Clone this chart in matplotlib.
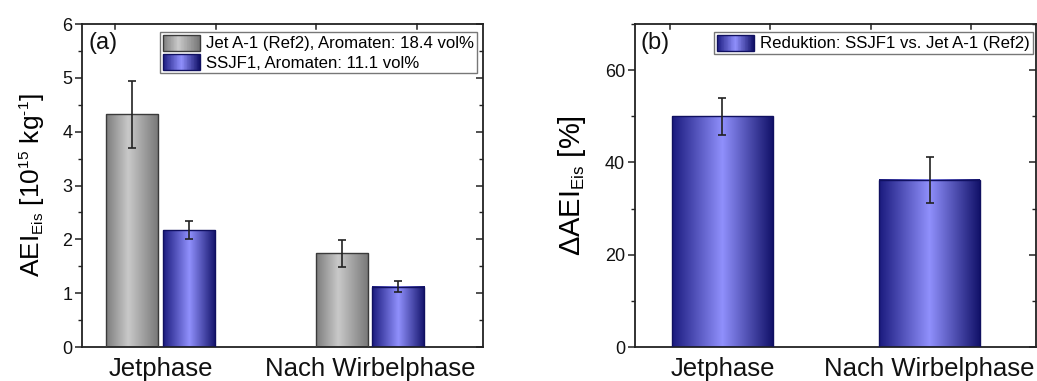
import numpy as np
import matplotlib
matplotlib.use("Agg")
import matplotlib.pyplot as plt
import matplotlib._mathtext as _mt
from matplotlib.colors import LinearSegmentedColormap
from matplotlib.patches import Rectangle
from matplotlib.legend_handler import HandlerBase
from matplotlib.ticker import MultipleLocator

plt.rcParams['font.family'] = ['Liberation Sans', 'DejaVu Sans']
plt.rcParams['mathtext.fontset'] = 'custom'
plt.rcParams['mathtext.rm'] = 'Liberation Sans'
plt.rcParams['mathtext.it'] = 'Liberation Sans:italic'
# smaller sub/superscripts in the axis labels
_mt.SHRINK_FACTOR = 0.58

# ---- data ----
phases = ["Jetphase", "Nach Wirbelphase"]
series_names = ["Jet A-1 (Ref2), Aromaten: 18.4 vol%", "SSJF1, Aromaten: 11.1 vol%"]
aei_jeta1 = [4.32, 1.74]
aei_jeta1_err = [0.62, 0.25]
aei_ssjf1 = [2.17, 1.12]
aei_ssjf1_err = [0.17, 0.10]
reduction_name = "Reduktion: SSJF1 vs. Jet A-1 (Ref2)"
reduction = [50.0, 36.2]
reduction_err = [4.0, 5.0]

gray_cmap = LinearSegmentedColormap.from_list(
    "gray_grad", [(0.0, "#7c7c7c"), (0.42, "#c9c9c9"), (1.0, "#777777")])
blue_cmap = LinearSegmentedColormap.from_list(
    "blue_grad", [(0.0, "#1a1a7e"), (0.5, "#9090fc"), (1.0, "#12126a")])

GRAD = np.linspace(0, 1, 256).reshape(1, -1)


def gradient_bars(ax, x, heights, width, cmap, edge):
    bars = ax.bar(x, heights, width, facecolor="none", edgecolor=edge,
                  linewidth=1.0, zorder=3)
    for b in bars:
        ax.imshow(GRAD, cmap=cmap, aspect="auto", interpolation="bilinear",
                  extent=[b.get_x(), b.get_x() + b.get_width(), 0, b.get_height()],
                  zorder=2)
    return bars


class GradientHandler(HandlerBase):
    def __init__(self, cmap, edge):
        super().__init__()
        self.cmap = cmap
        self.edge = edge

    def create_artists(self, legend, orig_handle, xdescent, ydescent,
                       width, height, fontsize, trans):
        n = 48
        arts = []
        for i in range(n):
            arts.append(Rectangle((-xdescent + width * i / n, -ydescent),
                                  width / n * 1.08, height,
                                  facecolor=self.cmap((i + 0.5) / n),
                                  edgecolor="none", transform=trans))
        arts.append(Rectangle((-xdescent, -ydescent), width, height,
                              facecolor="none", edgecolor=self.edge,
                              linewidth=1.0, transform=trans))
        return arts


def style_axes(ax, top_fracs):
    for s in ax.spines.values():
        s.set_color("#222222")
        s.set_linewidth(1.3)
    ax.tick_params(axis="y", which="major", direction="out", length=5,
                   width=1.1, labelsize=13, pad=2, colors="#222222",
                   labelcolor="#111111")
    ax.tick_params(axis="y", which="minor", direction="out", length=3,
                   width=1.0, colors="#222222")
    ax.tick_params(axis="x", which="both", length=0, labelsize=18.5, pad=7,
                   labelcolor="#111111")
    # inward ticks on the right spine
    sec = ax.secondary_yaxis("right")
    sec.set_yticks(ax.get_yticks())
    sec.yaxis.set_minor_locator(ax.yaxis.get_minor_locator())
    sec.tick_params(axis="y", which="major", direction="in", length=5,
                    width=1.1, labelright=False, colors="#222222")
    sec.tick_params(axis="y", which="minor", direction="in", length=3,
                    width=1.0, colors="#222222")
    sec.spines["right"].set_visible(False)
    # inward ticks on the top spine
    for f in top_fracs:
        ax.plot([f, f], [1.0, 0.985], transform=ax.transAxes, color="#222222",
                lw=1.1, clip_on=False, zorder=5)


def add_legend(ax, handles_cmaps, labels, anchor):
    handles = [Rectangle((0, 0), 1, 1) for _ in handles_cmaps]
    hmap = {h: GradientHandler(c, e) for h, (c, e) in zip(handles, handles_cmaps)}
    leg = ax.legend(handles, labels, loc="upper right", bbox_to_anchor=anchor,
                    fontsize=12.1, handler_map=hmap,
                    handlelength=2.2, handleheight=1.1, handletextpad=0.4,
                    borderpad=0.15, labelspacing=0.15, borderaxespad=0,
                    fancybox=False, framealpha=1, edgecolor="#777777")
    leg.get_frame().set_linewidth(1.0)
    return leg


fig = plt.figure(figsize=(10.37, 3.81), dpi=100)
ax1 = fig.add_axes([0.0791, 0.0892, 0.3867, 0.8478])
ax2 = fig.add_axes([0.6123, 0.0892, 0.3867, 0.8478])

err_kw = dict(fmt="none", ecolor="#222222", elinewidth=1.2, capsize=3,
              capthick=1.2, zorder=4)

# ---- panel (a) ----
x = np.arange(len(phases))
bw = 0.25
off = 0.135
gradient_bars(ax1, x - off, aei_jeta1, bw, gray_cmap, "#3a3a3a")
gradient_bars(ax1, x + off, aei_ssjf1, bw, blue_cmap, "#101060")
ax1.errorbar(x - off, aei_jeta1, yerr=aei_jeta1_err, **err_kw)
ax1.errorbar(x + off, aei_ssjf1, yerr=aei_ssjf1_err, **err_kw)
ax1.set_xlim(-0.375, 1.54)
ax1.set_ylim(0, 6)
ax1.yaxis.set_major_locator(MultipleLocator(1))
ax1.yaxis.set_minor_locator(MultipleLocator(0.5))
ax1.set_xticks(x)
ax1.set_xticklabels(phases)
ax1.set_ylabel(r"AEI$_{\mathregular{Eis}}$ [10$^{\mathregular{15}}$ kg$^{\text{-1}}$]",
               fontsize=19, labelpad=11)
style_axes(ax1, [0.082, 0.333, 0.584, 0.835])
ax1.text(0.015, 0.975, "(a)", transform=ax1.transAxes, fontsize=17,
         va="top", ha="left", color="#111111")
add_legend(ax1, [(gray_cmap, "#3a3a3a"), (blue_cmap, "#101060")],
           series_names, (0.985, 0.975))

# ---- panel (b) ----
gradient_bars(ax2, x, reduction, 0.485, blue_cmap, "#101060")
ax2.errorbar(x, reduction, yerr=reduction_err, **err_kw)
ax2.set_xlim(-0.422, 1.513)
ax2.set_ylim(0, 70)
ax2.yaxis.set_major_locator(MultipleLocator(20))
ax2.yaxis.set_minor_locator(MultipleLocator(10))
ax2.set_xticks(x)
ax2.set_xticklabels(phases)
ax2.set_ylabel(r"ΔAEI$_{\mathregular{Eis}}$ [%]", fontsize=21, labelpad=12)
style_axes(ax2, [0.087, 0.337, 0.589, 0.838])
ax2.text(0.015, 0.975, "(b)", transform=ax2.transAxes, fontsize=17,
         va="top", ha="left", color="#111111")
add_legend(ax2, [(blue_cmap, "#101060")], [reduction_name], (0.992, 0.975))

fig.savefig("out.png", dpi=100)
